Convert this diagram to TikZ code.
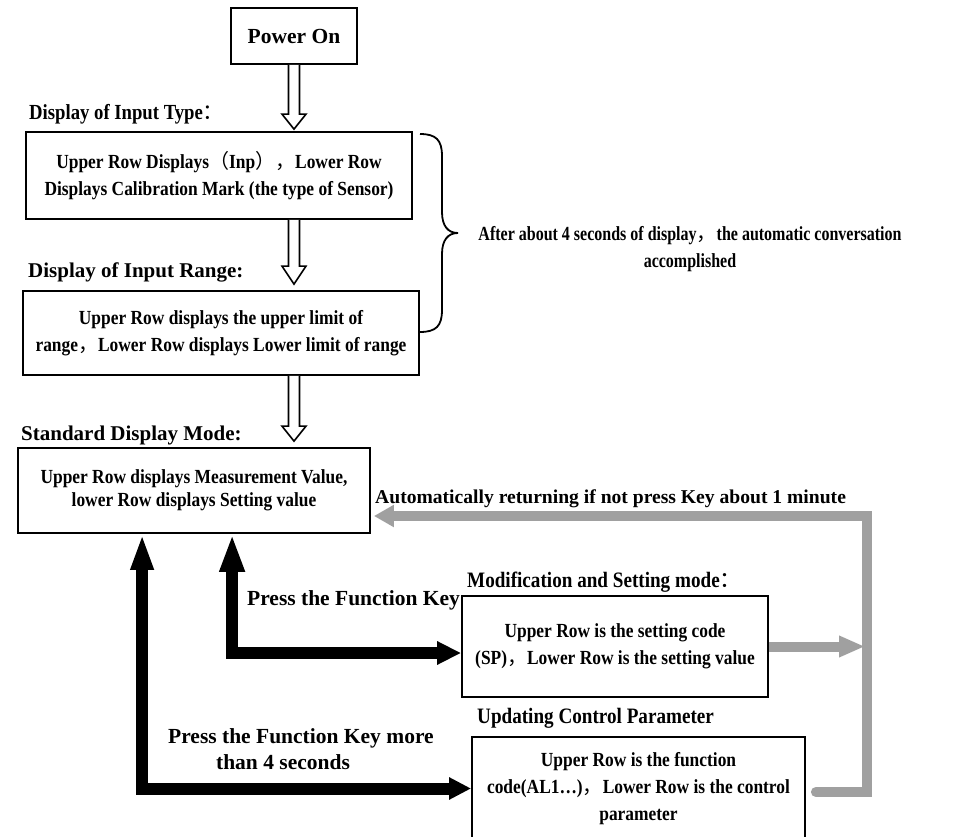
\documentclass[tikz,border=0pt]{standalone}
\usepackage{fontspec}
\setmainfont{Liberation Serif}
\newfontfamily\condfont[FakeStretch=0.87]{Liberation Serif}
\newfontfamily\narrowfont[FakeStretch=0.80]{Liberation Serif}
\newfontfamily\cjkfont{Noto Sans CJK SC}
\usetikzlibrary{arrows.meta,calc}
\definecolor{retgray}{RGB}{160,160,160}
\newcommand\FWlp{{\cjkfont\mdseries （}}
\newcommand\FWrp{{\cjkfont\mdseries ）}}
\newcommand\FWcm{{\cjkfont\mdseries ，}}
\newcommand\FWco{{\cjkfont\mdseries ：}}
\newcommand\hollowarr[4]{%
  \draw[hollow] let \p1=(pwr.south), \p2=(#1.south), \p3=(#2.north) in
  (\x1-5.5pt,\y2) -- (\x1-5.5pt,\y3+#3+#4) -- (\x1-12pt,\y3+#3+#4) -- (\x1,\y3+#3)
  -- (\x1+12pt,\y3+#3+#4) -- (\x1+5.5pt,\y3+#3+#4) -- (\x1+5.5pt,\y2);}
\tikzset{
  box/.style={draw, line width=1.8pt, align=center, inner sep=0pt,
    font=\condfont\bfseries\fontsize{20}{27}\selectfont},
  lblc/.style={inner sep=0pt, font=\condfont\bfseries\fontsize{21.5}{24}\selectfont},
  lblc2/.style={inner sep=0pt, font=\condfont\bfseries\fontsize{22}{26}\selectfont},
  lbln/.style={inner sep=0pt, font=\bfseries\fontsize{21}{25}\selectfont},
  lblret/.style={inner sep=0pt, font=\bfseries\fontsize{19.6}{24}\selectfont},
  lblkey/.style={inner sep=0pt, font=\bfseries\fontsize{21.5}{26}\selectfont},
  brtext/.style={inner sep=0pt, align=center, font=\narrowfont\bfseries\fontsize{20}{27}\selectfont},
  hollow/.style={draw, fill=white, line width=1.6pt, line join=miter},
  blkarr/.style={draw=black, line width=12pt, line join=miter},
  grayarr/.style={draw=retgray, line width=10pt, line join=miter},
}
\begin{document}
\begin{tikzpicture}[x=1pt,y=-1pt]
\useasboundingbox (0,0) rectangle (962,837);

% boxes
\node[box, font=\bfseries\fontsize{21.5}{26}\selectfont, minimum width=126pt, minimum height=56pt] (pwr) at (294,36) {Power On};
\node[box, minimum width=386pt, minimum height=87pt] (inp) at (219,175.5)
  {Upper Row Displays\FWlp Inp\FWrp\FWcm Lower Row\\Displays Calibration Mark (the type of Sensor)};
\node[box, minimum width=396pt, minimum height=84pt] (rng) at (221,333)
  {Upper Row displays the upper limit of\\range\FWcm Lower Row displays Lower limit of range};
\node[box, font=\condfont\bfseries\fontsize{20}{23}\selectfont, minimum width=352pt, minimum height=85pt] (std) at (194,490.5)
  {Upper Row displays Measurement Value,\\lower Row displays Setting value};
\node[box, minimum width=306pt, minimum height=101pt] (mod) at (615,646.5)
  {Upper Row is the setting code\\(SP)\FWcm Lower Row is the setting value};
\node[box, minimum width=333pt, minimum height=103pt] (upd) at (638.5,788.5)
  {Upper Row is the function\\code(AL1…)\FWcm Lower Row is the control\\parameter};

% labels
\node[lblc, anchor=base west] (tInp) at (29,120) {Display of Input Type\FWco};
\node[lbln, anchor=base west] (tRng) at (28,278) {Display of Input Range:};
\node[lbln, anchor=base west] (tStd) at (21,440) {Standard Display Mode:};
\node[lblc2, anchor=base west] (tMod) at (467,587) {Modification and Setting mode\FWco};
\node[lblc2, anchor=base west] (tUpd) at (477,723) {Updating Control Parameter};
\node[lblret, anchor=base west] (tRet) at (375,503) {Automatically returning if not press Key about 1 minute};
\node[lblkey, anchor=base west] (tKey) at (247,605) {Press the Function Key};
\node[lblkey, anchor=base west] (tKeyA) at (168,743) {Press the Function Key more};
\node[lblkey, anchor=base] (tKeyB) at (283,769) {than 4 seconds};
\node[brtext] (tBr) at (690,249) {After about 4 seconds of display\FWcm the automatic conversation\\accomplished};

% brace
\draw[line width=1.8pt] (420,134) .. controls (436,134) and (442,140) .. (442,156) -- (442,212)
  .. controls (442,226) and (448,233) .. (458,233)
  .. controls (448,233) and (442,240) .. (442,254) -- (442,310)
  .. controls (442,326) and (436,332) .. (420,332);

% hollow arrows
\hollowarr{pwr}{inp}{2pt}{15pt}
\hollowarr{inp}{rng}{6pt}{18pt}
\hollowarr{rng}{std}{6pt}{15pt}

% black arrows
\draw[blkarr, {Triangle[length=38pt,width=23pt]}-{Triangle[length=24pt,width=22pt]}]
  ($(std.south west)+(215,0)$) |- ($(mod.west)+(0,6.5)$);
\draw[blkarr, {Triangle[length=36pt,width=21pt]}-{Triangle[length=22pt,width=21pt]}]
  ($(std.south west)+(125,0)$) |- (upd.west);

% gray return arrows
\coordinate (rTop) at (867,516);
\coordinate (rBot) at (867,792);
\draw[grayarr, line cap=round, -{Triangle[length=20pt,width=21pt]}]
  ($(upd.east |- rBot)+(10,0)$) -- (rBot) -- (rTop) -- ($(std.east |- rTop)+(3,0)$);
\draw[grayarr, -{Triangle[length=26pt,width=20pt]}]
  (mod.east) -- ($(mod.east -| rTop)+(-2,0)$);
\end{tikzpicture}
\end{document}
